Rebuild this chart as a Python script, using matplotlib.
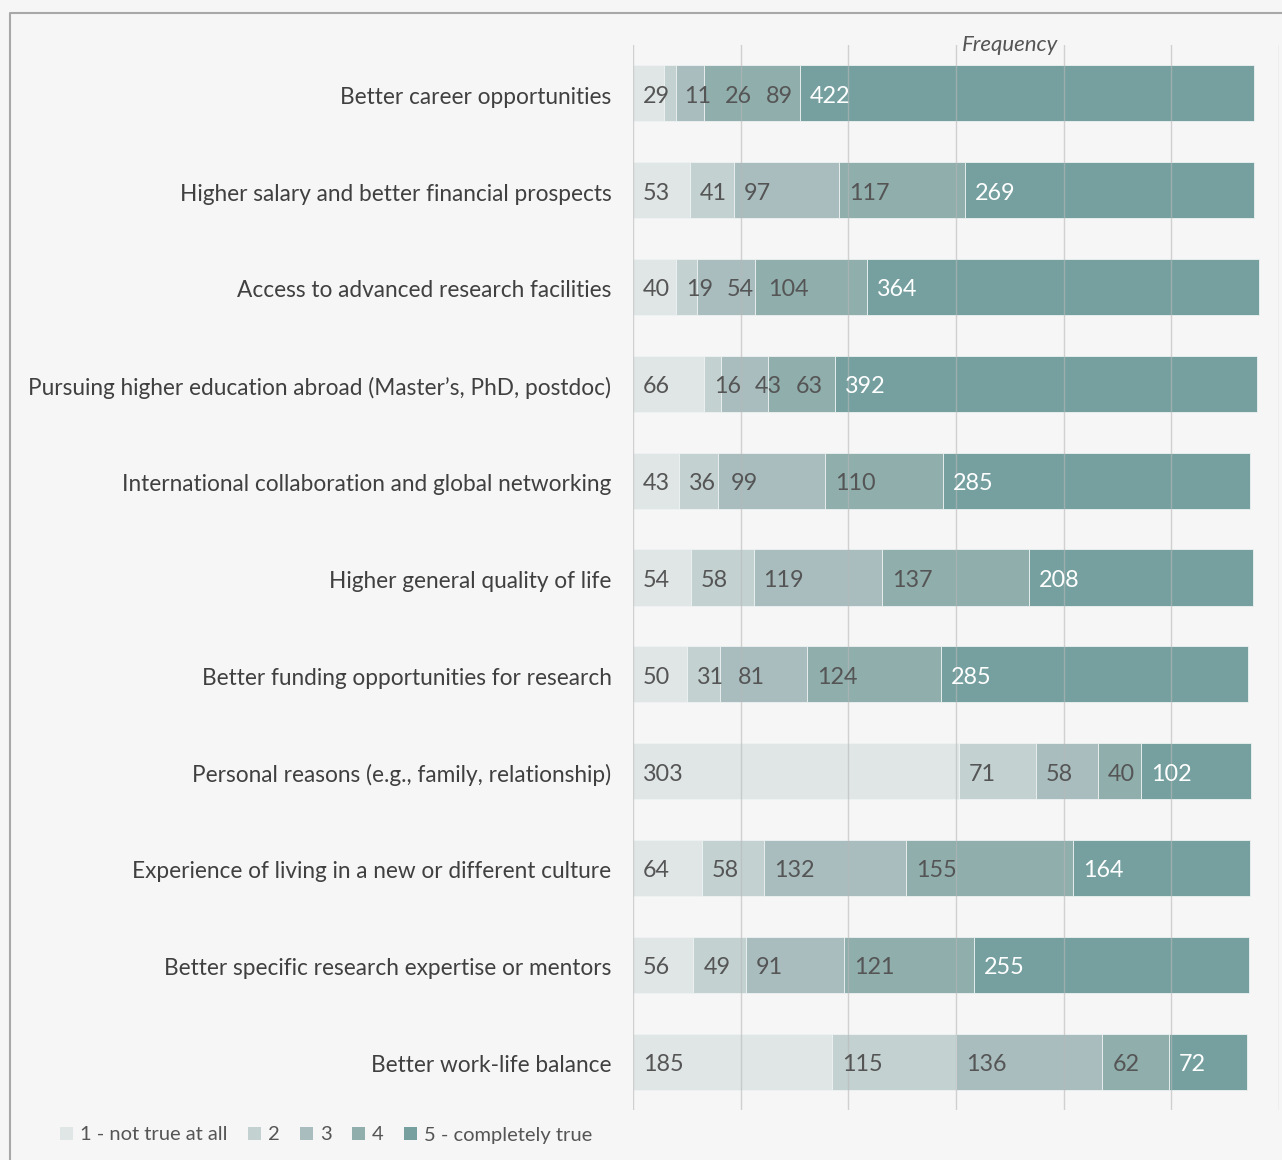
import matplotlib
matplotlib.use("Agg")
import matplotlib.pyplot as plt
from matplotlib.patches import Patch
from matplotlib.lines import Line2D

plt.rcParams['font.family'] = ['Lato', 'DejaVu Sans']

categories = [
    "Better career opportunities",
    "Higher salary and better financial prospects",
    "Access to advanced research facilities",
    "Pursuing higher education abroad (Master\u2019s, PhD, postdoc)",
    "International collaboration and global networking",
    "Higher general quality of life",
    "Better funding opportunities for research",
    "Personal reasons (e.g., family, relationship)",
    "Experience of living in a new or different culture",
    "Better specific research expertise or mentors",
    "Better work-life balance",
]

level_names = ["1 - not true at all", "2", "3", "4", "5 - completely true"]

not_true = [29, 53, 40, 66, 43, 54, 50, 303, 64, 56, 185]
level_2 = [11, 41, 19, 16, 36, 58, 31, 71, 58, 49, 115]
level_3 = [26, 97, 54, 43, 99, 119, 81, 58, 132, 91, 136]
level_4 = [89, 117, 104, 63, 110, 137, 124, 40, 155, 121, 62]
completely_true = [422, 269, 364, 392, 285, 208, 285, 102, 164, 255, 72]

series = [not_true, level_2, level_3, level_4, completely_true]
colors = ["#dfe6e5", "#c3d1d1", "#a9bdbf", "#8faeac", "#76a0a0"]
label_colors = ["#555555", "#555555", "#555555", "#555555", "#ffffff"]

W, H = 1282, 1160
fig = plt.figure(figsize=(W / 100, H / 100), dpi=100)
fig.patch.set_facecolor("#f6f6f6")

ax = fig.add_axes([633 / W, 1 - 1110 / H, (1279 - 633) / W, (1110 - 45) / H])
ax.set_facecolor("#f6f6f6")
ax.set_xlim(0, 600)
ax.set_ylim(len(categories) - 0.5, -0.5)

ypos = list(range(len(categories)))
lefts = [0] * len(categories)
for vals, col in zip(series, colors):
    ax.barh(ypos, vals, left=lefts, height=0.58, color=col,
            edgecolor="#eef2f2", linewidth=0.6, zorder=2)
    lefts = [l + v for l, v in zip(lefts, vals)]

# vertical grid drawn above the bars
for gx in range(0, 601, 100):
    ax.axvline(gx, color="#b8b8b8", linewidth=1.0, alpha=0.6, zorder=3)

for s in ax.spines.values():
    s.set_visible(False)
ax.set_xticks([])
ax.set_yticks([y + 0.02 for y in ypos])
ax.set_yticklabels(categories, fontsize=16.3, color="#404040")
ax.tick_params(axis="y", length=0, pad=15.5)

# value labels, left aligned inside each segment, nudged to avoid overlaps
fig.canvas.draw()
renderer = fig.canvas.get_renderer()
px_per_unit = ax.transData.transform((100, 0))[0] - ax.transData.transform((0, 0))[0]
px_per_unit /= 100.0
pad_units = 10 / px_per_unit
gap_units = 14 / px_per_unit
for i in ypos:
    start = 0
    prev_end = -1e9
    for vals, tc in zip(series, label_colors):
        v = vals[i]
        x = max(start + pad_units, prev_end + gap_units)
        t = ax.text(x, i + 0.03, str(v), ha="left", va="center", fontsize=16.8,
                    color=tc, zorder=4)
        bb = t.get_window_extent(renderer)
        prev_end = x + bb.width / px_per_unit
        start += v

fig.text(1010 / W, 1 - 45 / H, "Frequency", ha="center", va="center",
         fontsize=16, style="italic", color="#555555")

handles = [Patch(facecolor=c, edgecolor="none") for c in colors]
fig.legend(handles, level_names, ncol=5, frameon=False, loc="center left",
           bbox_to_anchor=(42 / W, 1 - 1135 / H), fontsize=14.5,
           handlelength=0.65, handleheight=0.65, handletextpad=0.35,
           columnspacing=1.0, labelcolor="#555555")

# frame around the figure
fig.add_artist(Line2D([10 / W, 10 / W, 1.0], [0.0, 1 - 13 / H, 1 - 13 / H],
                      transform=fig.transFigure, color="#a8a8a8", linewidth=1.5))

fig.savefig("out.png", dpi=100, facecolor=fig.get_facecolor())
